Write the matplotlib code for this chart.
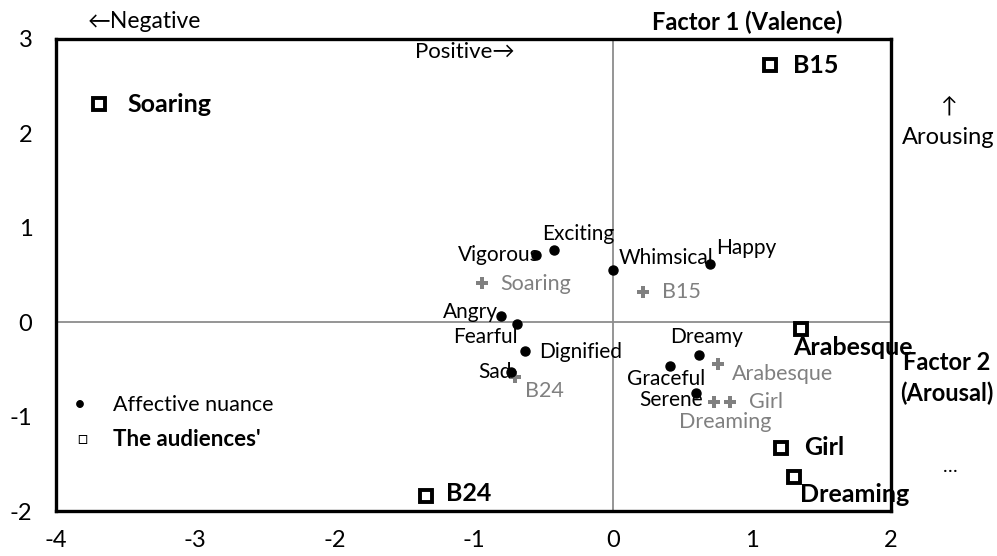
import matplotlib
matplotlib.use("Agg")
import matplotlib.pyplot as plt

# ---- data ----------------------------------------------------------------- #
NUANCE = ["Exciting", "Vigorous", "Whimsical", "Happy", "Angry", "Fearful",
          "Dignified", "Sad", "Dreamy", "Graceful", "Serene"]
NUANCE_X = [-0.42, -0.55, 0.00, 0.70, -0.80, -0.69, -0.63, -0.73, 0.62, 0.41, 0.60]
NUANCE_Y = [0.76, 0.71, 0.55, 0.62, 0.07, -0.02, -0.30, -0.53, -0.35, -0.46, -0.75]

PIECE = ["Soaring", "B15", "B24", "Arabesque", "Girl", "Dreaming"]
PIECE_X = [-0.94, 0.22, -0.70, 0.76, 0.84, 0.73]
PIECE_Y = [0.42, 0.32, -0.58, -0.44, -0.84, -0.84]

AUDIENCE = ["Soaring", "B15", "Arabesque", "Girl", "Dreaming", "B24"]
AUD_X = [-3.69, 1.13, 1.35, 1.21, 1.30, -1.34]
AUD_Y = [2.31, 2.72, -0.07, -1.33, -1.64, -1.84]

X_TICKS = [-4, -3, -2, -1, 0, 1, 2]
Y_TICKS = [-2, -1, 0, 1, 2, 3]

# label placement: (dx px, dy px, ha)
NUANCE_OFF = [(-12, 16, "left"), (4, 0, "right"), (6, 12, "left"), (6, 16, "left"),
              (-3, 4, "right"), (1, -13, "right"), (14, -1, "left"), (1, 0, "right"),
              (8, 18, "center"), (-4, -13, "center"), (7, -7, "right")]
PIECE_OFF = [(18, -1, "left"), (19, 0, "left"), (10, -14, "left"),
             (13, -10, "left"), (19, 0, "left"), (11, -20, "center")]
AUD_OFF = [(28, 0, "left"), (23, 0, "left"), (-7, -19, "left"),
           (23, 0, "left"), (6, -17, "left"), (20, 2, "left")]

GRAY = "#808080"
FONT = ["Lato", "DejaVu Sans"]
plt.rcParams["font.family"] = FONT
plt.rcParams["axes.unicode_minus"] = False

fig = plt.figure(figsize=(9.97, 5.56), dpi=100)
ax = fig.add_axes([0.0562, 0.0809, 0.8375, 0.849])

ax.axhline(0, color="#8c8c8c", lw=1.3, zorder=1)
ax.axvline(0, color="#8c8c8c", lw=1.3, zorder=1)

ax.plot(NUANCE_X, NUANCE_Y, "o", color="black", ms=6.5, ls="none", zorder=4)
ax.plot(PIECE_X, PIECE_Y, "P", color=GRAY, ms=8.5, mew=0, ls="none", zorder=3)
ax.plot(AUD_X, AUD_Y, "s", mfc="white", mec="black", mew=2.8, ms=8.5,
        ls="none", zorder=5)

for n, x, y, (dx, dy, ha) in zip(NUANCE, NUANCE_X, NUANCE_Y, NUANCE_OFF):
    ax.annotate(n, (x, y), xytext=(dx, dy), textcoords="offset pixels",
                ha=ha, va="center", fontsize=15, color="black", zorder=6)
for n, x, y, (dx, dy, ha) in zip(PIECE, PIECE_X, PIECE_Y, PIECE_OFF):
    ax.annotate(n, (x, y), xytext=(dx, dy), textcoords="offset pixels",
                ha=ha, va="center", fontsize=15.5, color=GRAY, zorder=6)
for n, x, y, (dx, dy, ha) in zip(AUDIENCE, AUD_X, AUD_Y, AUD_OFF):
    ax.annotate(n, (x, y), xytext=(dx, dy), textcoords="offset pixels",
                ha=ha, va="center", fontsize=18, fontweight="bold",
                color="black", zorder=6, annotation_clip=False)

ax.set_xlim(-4, 2)
ax.set_ylim(-2, 3)
ax.set_xticks(X_TICKS)
ax.set_yticks(Y_TICKS)
ax.tick_params(length=0, labelsize=17)
ax.tick_params(axis="y", pad=17)
ax.tick_params(axis="x", pad=14)
for s in ax.spines.values():
    s.set_linewidth(2.4)
    s.set_color("black")

# axis captions and direction hints
fig.text(88 / 997, 1 - 22 / 556, "←Negative", ha="left", va="center", fontsize=16.5)
fig.text(415 / 997, 1 - 52 / 556, "Positive→", ha="left", va="center", fontsize=16)
fig.text(747 / 997, 1 - 22 / 556, "Factor 1 (Valence)", ha="center", va="center",
         fontsize=17, fontweight="bold")
fig.text(948 / 997, 1 - 107 / 556, "↑", ha="center", va="center", fontsize=16)
fig.text(948 / 997, 1 - 137 / 556, "Arousing", ha="center", va="center", fontsize=17)
fig.text(947 / 997, 1 - 362 / 556, "Factor 2", ha="center", va="center",
         fontsize=17, fontweight="bold")
fig.text(947 / 997, 1 - 393 / 556, "(Arousal)", ha="center", va="center",
         fontsize=17, fontweight="bold")
fig.text(950 / 997, 1 - 466 / 556, "…", ha="center", va="center", fontsize=14)

# hand-made legend
ax.text(0.029, 0.224, "•", transform=ax.transAxes, ha="center", va="center",
        fontsize=15)
ax.text(0.068, 0.224, "Affective nuance", transform=ax.transAxes, ha="left",
        va="center", fontsize=15.5)
ax.text(0.031, 0.152, "□", transform=ax.transAxes, ha="center", va="center",
        fontsize=12)
ax.text(0.068, 0.152, "The audiences'", transform=ax.transAxes, ha="left",
        va="center", fontsize=16, fontweight="bold")

fig.savefig("out.png", dpi=100)
